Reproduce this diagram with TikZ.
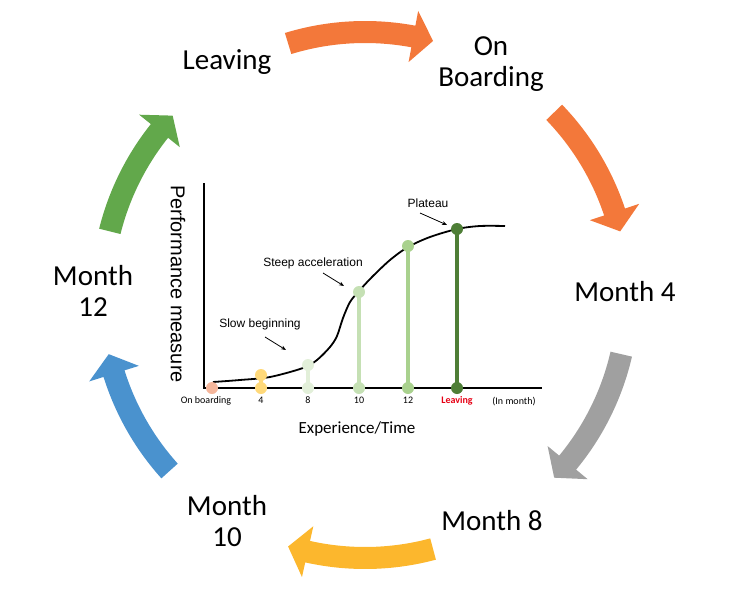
\documentclass[tikz,border=0pt]{standalone}
\usepackage{fontspec}
\setmainfont{Carlito}
\newfontfamily\arialf{Liberation Sans}
\usetikzlibrary{arrows.meta}
\definecolor{corange}{RGB}{243,120,58}
\definecolor{cgray}{RGB}{160,160,160}
\definecolor{cyellow}{RGB}{252,183,45}
\definecolor{cblue}{RGB}{74,146,206}
\definecolor{cgreen}{RGB}{98,168,75}
\definecolor{dpeach}{RGB}{245,182,155}
\definecolor{dyellow}{RGB}{255,217,122}
\definecolor{dpale}{RGB}{226,239,217}
\definecolor{dlight}{RGB}{197,224,180}
\definecolor{dmid}{RGB}{169,209,142}
\definecolor{ddark}{RGB}{78,126,54}
\definecolor{lred}{RGB}{230,0,20}
\newcommand\cyclarrow[3]{%
  \fill[#1] plot[domain=#2:#3+4.4, samples=40] ({365+274*cos(\x)},{295-274*sin(\x)})
   -- ({365+289*cos(#3+4.4)},{295-289*sin(#3+4.4)})
   -- ({365+263*cos(#3)},{295-263*sin(#3)})
   -- ({365+237*cos(#3+4.4)},{295-237*sin(#3+4.4)})
   -- plot[domain=#3+4.4:#2, samples=40] ({365+252*cos(\x)},{295-252*sin(\x)}) -- cycle;}
\begin{document}
\begin{tikzpicture}[x=1pt,y=-1pt,
  stagelabel/.style={font=\fontsize{29}{31.5}\selectfont, align=center, inner sep=0pt},
  ticklabel/.style={font=\fontsize{10}{12}\selectfont, inner sep=0pt, anchor=base},
  annot/.style={font=\arialf\fontsize{12}{14}\selectfont, inner sep=0pt},
  annotarrow/.style={line width=0.8pt, -{Stealth[length=5pt,width=4pt]}},
  axisline/.style={line width=2.6pt},
  stem/.style={line width=4.5pt},
  dot/.style={radius=6pt}]
\useasboundingbox (0,0) rectangle (744,594);

% cycle arrows
\cyclarrow{corange}{107}{75}
\cyclarrow{corange}{44}{14}
\cyclarrow{cgray}{-13}{-44}
\cyclarrow{cyellow}{-75}{-107}
\cyclarrow{cblue}{222}{193}
\cyclarrow{cgreen}{166}{137}

% stage labels
\node[stagelabel, anchor=base] (leaving) at (227,70) {Leaving};
\node[stagelabel] (onboard) at (491,64) {On\\Boarding};
\node[stagelabel, anchor=base] (m4) at (625,301) {Month 4};
\node[stagelabel, anchor=base] (m8) at (492,530) {Month 8};
\node[stagelabel] (m10) at (227,521) {Month\\10};
\node[stagelabel] (m12) at (93,291) {Month\\12};

% chart axes
\coordinate (orig) at (204,388);
\coordinate (ytop) at (204,183);
\coordinate (xend) at (542,388);
\draw[axisline] (ytop) -- (orig) -- (xend);

\node[font=\arialf\fontsize{20}{24}\selectfont, rotate=-90, inner sep=0pt] (ylab) at (178,284) {Performance measure};
\node[font=\fontsize{17}{20}\selectfont, anchor=base, inner sep=0pt] (xlab) at (357,433) {Experience/Time};

% curve
\draw[line width=1.8pt] plot[smooth, tension=0.5] coordinates {(213,382) (240,380) (270,377) (303,368) (317,360) (330,347) (337,336) (343,318) (350,302) (359,291) (372,277) (390,260) (408,247) (430,237) (457,229) (480,226) (505,226)};

% stems and dots
\coordinate (p0) at (212,388);
\coordinate (p4a) at (261,388); \coordinate (p4b) at (261,375);
\coordinate (p8a) at (308,388); \coordinate (p8b) at (308,365);
\coordinate (p10a) at (359,388); \coordinate (p10b) at (359,292);
\coordinate (p12a) at (408,388); \coordinate (p12b) at (408,246);
\coordinate (pLa) at (457,388); \coordinate (pLb) at (457,229);
\draw[stem, dyellow] (p4a) -- (p4b);
\draw[stem, dpale] (p8a) -- (p8b);
\draw[stem, dlight] (p10a) -- (p10b);
\draw[stem, dmid] (p12a) -- (p12b);
\draw[stem, ddark] (pLa) -- (pLb);
\fill[dpeach] (p0) circle[dot];
\fill[dyellow] (p4a) circle[dot]; \fill[dyellow] (p4b) circle[dot];
\fill[dpale] (p8a) circle[dot]; \fill[dpale] (p8b) circle[dot];
\fill[dlight] (p10a) circle[dot]; \fill[dlight] (p10b) circle[dot];
\fill[dmid] (p12a) circle[dot]; \fill[dmid] (p12b) circle[dot];
\fill[ddark] (pLa) circle[dot]; \fill[ddark] (pLb) circle[dot];

% tick labels
\node[ticklabel] (t0) at (206,403) {On boarding};
\node[ticklabel] (t4) at (261,403) {4};
\node[ticklabel] (t8) at (308,403) {8};
\node[ticklabel] (t10) at (359,403) {10};
\node[ticklabel] (t12) at (408,403) {12};
\node[ticklabel, text=lred, font=\bfseries\fontsize{10}{12}\selectfont] (tL) at (457,403) {Leaving};
\node[ticklabel] (tu) at (514,404) {(In month)};

% annotations
\node[annot] (plateau) at (428,203) {Plateau};
\coordinate (plA) at (420,213); \coordinate (plB) at (447,225);
\draw[annotarrow] (plA) -- (plB);
\node[annot] (steep) at (313,263) {Steep acceleration};
\coordinate (stA) at (323,273); \coordinate (stB) at (344,286);
\draw[annotarrow] (stA) -- (stB);
\node[annot] (slow) at (260,324) {Slow beginning};
\coordinate (slA) at (265,337); \coordinate (slB) at (286,350);
\draw[annotarrow] (slA) -- (slB);
\end{tikzpicture}
\end{document}
